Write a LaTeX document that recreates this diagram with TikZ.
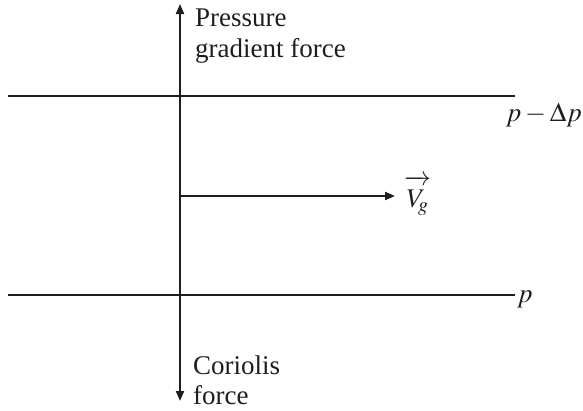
\documentclass[tikz,border=0pt]{standalone}
\usepackage{mathptmx}
\usepackage{fontspec}
\setmainfont{Liberation Serif}
\usetikzlibrary{arrows.meta}
\definecolor{ink}{RGB}{30,30,30}
\tikzset{
  axis/.style={draw=ink, line width=2pt},
  tip/.style={-{Triangle[length=10pt,width=8pt]}},
  lbl/.style={inner sep=0pt, text=ink, font=\fontsize{27}{30.5}\selectfont, align=left},
}
\begin{document}
\begin{tikzpicture}[x=1pt,y=-1pt]
\useasboundingbox (0,0) rectangle (583,410);
% vertical axis
\coordinate (top) at (180,4);
\coordinate (bot) at (180,401);
\coordinate (mid) at (180,196);
\draw[axis,{Triangle[length=10pt,width=8pt]}-{Triangle[length=10pt,width=8pt]}] (bot) -- (top);
% isobars
\coordinate (l1) at (8,96);
\coordinate (r1) at (515,96);
\coordinate (l2) at (8,295);
\coordinate (r2) at (515,295);
\draw[axis] (l1) -- (r1);
\draw[axis] (l2) -- (r2);
% geostrophic wind
\coordinate (vend) at (395,196);
\draw[axis,tip] (mid) -- (vend);
% labels
\node[lbl,anchor=north west] (pgf) at (195,9) {Pressure\\gradient force};
\node[lbl,anchor=north west] (cor) at (193,355.5) {Coriolis\\force};
\node[lbl,anchor=base east] (pdp) at (582,121) {$p-\Delta p$};
\node[lbl,anchor=base west] (p) at (517,302) {$p$};
\node[lbl,anchor=base west] (vg) at (404,207) {$\overrightarrow{\vphantom{\big|}V_{\!g}}$};
\end{tikzpicture}
\end{document}
